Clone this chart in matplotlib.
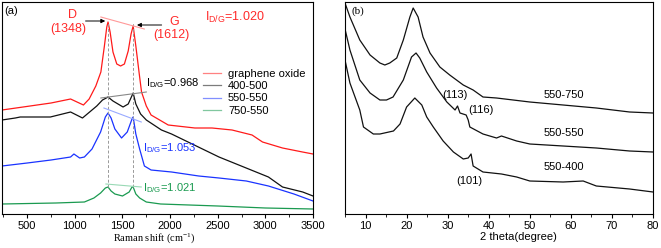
import matplotlib
matplotlib.use("Agg")
import matplotlib.pyplot as plt
from matplotlib.ticker import MultipleLocator

plt.rcParams['font.family'] = ['Liberation Sans', 'DejaVu Sans']
plt.rcParams['mathtext.default'] = 'regular'

# ---- (a) Raman spectra, intensity in arbitrary units ----
go_x = [235, 530, 750, 955, 1000, 1090, 1150, 1220, 1273, 1310, 1335, 1348, 1370, 1400,
        1440, 1480, 1520, 1560, 1590, 1612, 1640, 1676, 1700, 1750, 1800, 1980, 2260,
        2440, 2650, 2860, 2970, 3180, 3390, 3500]
go_y = [104, 108, 111, 115, 113, 109, 115, 128, 142, 168, 187, 192, 182, 162,
        150, 148, 150, 163, 180, 188, 168, 140, 122, 108, 99, 89, 86,
        86, 84, 79, 72, 66, 62, 60]

s400_x = [235, 375, 426, 743, 955, 1080, 1230, 1290, 1330, 1348, 1400, 1506, 1560, 1612,
          1640, 1690, 1750, 1909, 2015, 2513, 3032, 3180, 3392, 3500]
s400_y = [94, 96, 97, 97, 102, 96, 108, 114, 116, 117, 113, 107, 110, 121,
          110, 100, 94, 84, 80, 57, 37, 27, 22, 18]

s550_x = [235, 500, 750, 955, 990, 1050, 1100, 1180, 1270, 1320, 1348, 1380, 1420, 1490,
          1550, 1600, 1612, 1640, 1680, 1730, 1800, 2015, 2300, 2513, 2800, 3032, 3300, 3500]
s550_y = [48, 51, 54, 57, 60, 56, 57, 65, 82, 97, 101, 96, 85, 76,
          82, 95, 97, 80, 65, 48, 44, 42, 38, 36, 33, 28, 20, 13]

s750_x = [235, 800, 1100, 1200, 1270, 1320, 1348, 1380, 1420, 1500, 1570, 1600, 1612,
          1640, 1680, 1750, 1900, 2500, 3000, 3500]
s750_y = [10, 11, 12, 16, 21, 26, 27, 23, 20, 18, 22, 27, 27,
          20, 16, 12, 10, 8, 6, 5]

# ---- (b) XRD patterns ----
x750 = [5.0, 6.2, 8.6, 11.1, 13.5, 14.7, 15.9, 17.6, 19.2, 20.8, 21.6, 22.8, 24.0, 25.7,
        28.1, 30.5, 33.8, 36.2, 38.6, 41.9, 50.0, 58.1, 66.2, 74.3, 80.0]
y750 = [211, 197, 174, 159, 151, 149, 151, 156, 174, 197, 206, 197, 177, 161,
        147, 139, 129, 124, 117, 116, 112, 109, 106, 102, 101]

x550 = [5.0, 6.2, 8.6, 11.1, 13.5, 15.1, 16.7, 19.2, 21.2, 22.3, 23.2, 24.9, 27.3, 29.8,
        31.8, 32.4, 33.0, 34.5, 35.0, 35.4, 38.6, 41.9, 43.1, 46.8, 50.0, 58.1, 66.2,
        74.3, 80.0]
y550 = [185, 164, 134, 121, 114, 114, 117, 134, 157, 161, 156, 142, 126, 112,
        104, 108, 101, 99, 94, 87, 80, 76, 78, 73, 70, 68, 66,
        63, 62]

x400 = [5.0, 6.2, 8.6, 9.5, 11.9, 13.5, 16.8, 18.4, 20.0, 22.0, 23.7, 24.9, 26.5, 28.9,
        31.4, 33.8, 35.0, 35.7, 36.2, 38.6, 43.1, 46.8, 50.0, 58.1, 63.0, 66.2, 74.3, 80.0]
y400 = [154, 131, 104, 87, 80, 80, 83, 90, 107, 116, 109, 97, 87, 73,
        62, 55, 56, 60, 48, 42, 40, 37, 33, 32, 33, 28, 25, 22]

fig = plt.figure(figsize=(6.61, 2.48), dpi=100)
axa = fig.add_axes([2 / 661, 34 / 248, 311 / 661, 212 / 248])
axb = fig.add_axes([345 / 661, 34 / 248, 308 / 661, 212 / 248])

lw = 0.9
axa.plot(go_x, go_y, color='#ff1a1a', lw=lw, label='graphene oxide')
axa.plot(s400_x, s400_y, color='#111111', lw=lw, label='400-500')
axa.plot(s550_x, s550_y, color='#1a33ff', lw=lw, label='550-550')
axa.plot(s750_x, s750_y, color='#1a9a50', lw=lw, label='750-550')

# peak guide lines
for px in (1348, 1612):
    axa.plot([px, px], [27, 192], ls=(0, (3, 2)), color='#999999', lw=0.7)
axa.plot([1273, 1729], [197, 185], color='#ff9999', lw=0.8)
axa.plot([1273, 1750], [116, 122], color='#888888', lw=0.8)
axa.plot([1305, 1697], [106, 92], color='#99aaff', lw=0.8)
axa.plot([1326, 1697], [30, 27], color='#99d9b5', lw=0.8)

axa.annotate('', xy=(1348, 193), xytext=(1083, 193),
             arrowprops=dict(arrowstyle='-|>', color='black', lw=0.7, mutation_scale=6))
axa.annotate('', xy=(1623, 189), xytext=(1940, 189),
             arrowprops=dict(arrowstyle='-|>', color='black', lw=0.7, mutation_scale=6))

red = '#ff2a2a'
axa.text(976, 199, 'D', color=red, fontsize=9, ha='center', va='center')
axa.text(934, 185, '(1348)', color=red, fontsize=9, ha='center', va='center')
axa.text(2046, 192, 'G', color=red, fontsize=9, ha='center', va='center')
axa.text(2015, 179, '(1612)', color=red, fontsize=9, ha='center', va='center')
axa.text(2364, 197, r'I$_{D/G}$=1.020', color=red, fontsize=9, va='center')
axa.text(1750, 131, r'I$_{D/G}$=0.968', color='black', fontsize=8, va='center')
axa.text(1718, 66, r'I$_{D/G}$=1.053', color='#1a33ff', fontsize=8, va='center')
axa.text(1718, 26, r'I$_{D/G}$=1.021', color='#1a9a50', fontsize=8, va='center')
axa.text(256, 203, '(a)', fontsize=8, va='center')

leg = axa.legend(loc='upper left', bbox_to_anchor=(0.63, 0.71), frameon=False,
                 fontsize=8, handlelength=1.6, handletextpad=0.6,
                 labelspacing=0.2, borderpad=0)
for h in leg.legend_handles:
    h.set_alpha(0.55)

axa.set_xlim(235, 3500)
axa.set_ylim(0, 212)
axa.set_yticks([])
axa.xaxis.set_major_locator(MultipleLocator(500))
axa.xaxis.set_minor_locator(MultipleLocator(250))
axa.tick_params(axis='x', which='major', direction='out', length=3, labelsize=8, pad=2)
axa.tick_params(axis='x', which='minor', direction='out', length=2)
axa.set_xticks([500, 1000, 1500, 2000, 2500, 3000, 3500])
axa.set_xlabel('Raman shift (cm$^{-1}$)', fontsize=7.5, family='Liberation Serif')
axa.xaxis.set_label_coords(0.49, -0.08)

axb.plot(x750, y750, color='#111111', lw=lw)
axb.plot(x550, y550, color='#111111', lw=lw)
axb.plot(x400, y400, color='#111111', lw=lw)
axb.text(58.3, 119, '550-750', fontsize=8, ha='center', va='center')
axb.text(58.3, 81, '550-550', fontsize=8, ha='center', va='center')
axb.text(58.3, 47, '550-400', fontsize=8, ha='center', va='center')
axb.text(31.8, 119, '(113)', fontsize=8, ha='center', va='center')
axb.text(38.1, 104, '(116)', fontsize=8, ha='center', va='center')
axb.text(35.2, 33, '(101)', fontsize=8, ha='center', va='center')
axb.text(6.5, 203, '(b)', fontsize=8, va='center', family='Liberation Serif')

axb.set_xlim(5, 80)
axb.set_ylim(0, 212)
axb.set_yticks([])
axb.xaxis.set_major_locator(MultipleLocator(10))
axb.xaxis.set_minor_locator(MultipleLocator(5))
axb.tick_params(axis='x', which='major', direction='out', length=3, labelsize=8, pad=2)
axb.tick_params(axis='x', which='minor', direction='out', length=2)
axb.set_xlabel('2 theta(degree)', fontsize=8)
axb.xaxis.set_label_coords(0.563, -0.085)

for ax in (axa, axb):
    for sp in ax.spines.values():
        sp.set_linewidth(0.8)

fig.savefig('out.png', dpi=100)
